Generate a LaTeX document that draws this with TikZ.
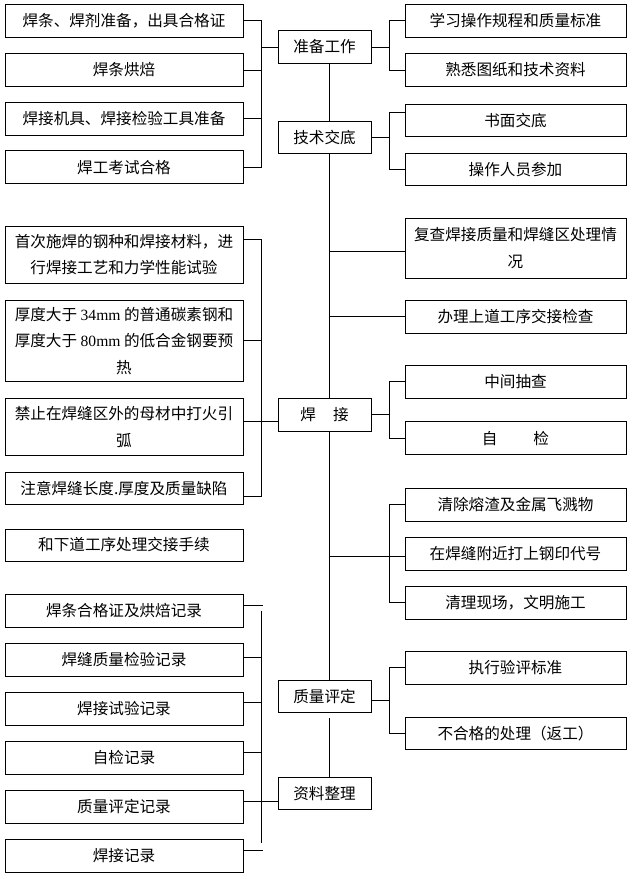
\documentclass[tikz,border=0pt]{standalone}
\usepackage{fontspec}
\setmainfont{Noto Sans CJK SC}
\newfontfamily\lat{Liberation Serif}
\begin{document}
\begin{tikzpicture}[x=1pt,y=-1pt]
\tikzset{
 bx/.style={draw, line width=0.9pt, inner sep=0pt, align=center, font=\fontsize{15.6}{26.7}\selectfont},
 lb/.style={bx, minimum width=238pt, minimum height=33pt},
 cb/.style={bx, minimum width=93pt, minimum height=32.6pt},
 rb/.style={bx, minimum width=221pt, minimum height=33pt},
 ln/.style={line width=0.9pt}
}
\useasboundingbox[fill=white] (0,0) rectangle (632,879);
\coordinate (spine) at (329,0);
% left boxes
\node[lb] (L1) at (124,20.8) {焊条、焊剂准备，出具合格证};
\node[lb] (L2) at (124,70) {焊条烘焙};
\node[lb] (L3) at (124,118.8) {焊接机具、焊接检验工具准备};
\node[lb] (L4) at (124,167.3) {焊工考试合格};
\node[lb, minimum height=57.3pt] (L5) at (124,254.7) {首次施焊的钢种和焊接材料，进\\行焊接工艺和力学性能试验};
\node[lb, minimum height=81.7pt] (L6) at (124,340.8) {厚度大于 {\lat 34mm} 的普通碳素钢和\\厚度大于 {\lat 80mm} 的低合金钢要预\\热};
\node[lb, minimum height=56.7pt] (L7) at (124,426.7) {禁止在焊缝区外的母材中打火引\\弧};
\node[lb, minimum height=32pt] (L8) at (124,488.3) {注意焊缝长度.厚度及质量缺陷};
\node[lb, minimum height=32pt] (L9) at (124,545) {和下道工序处理交接手续};
\node[lb] (L10) at (124,610.7) {焊条合格证及烘焙记录};
\node[lb] (L11) at (124,659.7) {焊缝质量检验记录};
\node[lb] (L12) at (124,708.7) {焊接试验记录};
\node[lb] (L13) at (124,757.8) {自检记录};
\node[lb] (L14) at (124,806.8) {质量评定记录};
\node[lb] (L15) at (124,855.8) {焊接记录};
% centre boxes
\node[cb] (C1) at (324.5,47) {准备工作};
\node[cb] (C2) at (324.5,137.3) {技术交底};
\node[cb] (C3) at (324.5,414.7) {焊\hspace{1.1em}接};
\node[cb] (C4) at (324.5,696.3) {质量评定};
\node[cb] (C5) at (324.5,793.3) {资料整理};
% right boxes
\node[rb] (R1) at (515.5,20.8) {学习操作规程和质量标准};
\node[rb] (R2) at (515.5,70) {熟悉图纸和技术资料};
\node[rb, minimum height=32.4pt] (R3) at (515.5,120.5) {书面交底};
\node[rb, minimum height=32pt] (R4) at (515.5,169.3) {操作人员参加};
\node[rb, minimum height=60pt] (R5) at (515.5,248.3) {复查焊接质量和焊缝区处理情\\况};
\node[rb] (R6) at (515.5,316.7) {办理上道工序交接检查};
\node[rb] (R7) at (515.5,381.8) {中间抽查};
\node[rb] (R8) at (515.5,438.3) {自\hspace{2.3em}检};
\node[rb, minimum height=32.7pt] (R9) at (515.5,504.7) {清除熔渣及金属飞溅物};
\node[rb, minimum height=32.7pt] (R10) at (515.5,553.7) {在焊缝附近打上钢印代号};
\node[rb] (R11) at (515.5,602.5) {清理现场，文明施工};
\node[rb] (R12) at (515.5,667.7) {执行验评标准};
\node[rb, minimum height=31.6pt] (R13) at (515.5,733.5) {不合格的处理（返工）};
% spine
\draw[ln] (C1.south -| spine) -- (C2.north -| spine);
\draw[ln] (C2.south -| spine) -- (C3.north -| spine);
\draw[ln] (C3.south -| spine) -- (C4.north -| spine);
\draw[ln] ([yshift=-5pt]C4.south -| spine) -- (C5.north -| spine);
% group 1 left
\coordinate (b1) at (261,47);
\foreach \n in {L1,L2,L3,L4} \draw[ln] (\n.east) -| (b1);
\draw[ln] (b1) -- (C1.west);
% group 1 right
\coordinate (r1) at (389,47);
\draw[ln] (C1.east) -- (r1);
\draw[ln] (r1) |- (R1.west);
\draw[ln] (r1) |- (R2.west);
% group 2 right
\coordinate (r2) at (389,137.3);
\draw[ln] (C2.east) -- (r2);
\draw[ln] (r2) |- ([yshift=7.8pt]R3.west);
\draw[ln] (r2) |- (R4.west);
% spine branches
\coordinate (s5) at (329,251.7);
\draw[ln] (s5) -- (s5 -| R5.west);
\draw[ln] (R6.west -| spine) -- (R6.west);
% group 3 right
\coordinate (r3) at (389,414.7);
\draw[ln] (C3.east) -- (r3);
\draw[ln] (r3) |- (R7.west);
\draw[ln] (r3) |- (R8.west);
% group 3 left
\coordinate (b2) at (261,421.7);
\draw[ln] ([yshift=-14pt]L5.north east) -| (b2);
\draw[ln] (L6.east) -| (b2);
\draw[ln] ([yshift=-7.7pt]L8.east) -| (b2);
\draw[ln] (L7.east |- b2) -- (b2 -| C3.west);
% group 4 right
\coordinate (r4) at (389,556);
\draw[ln] (r4 -| spine) -- (r4);
\draw[ln] (r4) |- (R9.west);
\draw[ln] (r4) |- (R11.west);
\draw[ln] (r4) -- (r4 -| R10.west);
% group 5 right
\coordinate (r5) at (389,700.3);
\draw[ln] ([yshift=-4pt]C4.east) -- (r5);
\draw[ln] (r5) |- (R12.west);
\draw[ln] (r5) |- (R13.west);
% group 6 left
\coordinate (b3t) at (261,610.7);
\coordinate (b3b) at (261,843.3);
\draw[ln] (b3t) -- (b3b);
\draw[ln] ([yshift=5pt]L10.east) -- ++(19.6,0);
\draw[ln] ([yshift=2.4pt]L11.east) -- ++(18,0);
\draw[ln] ([yshift=6pt]L12.east) -- ++(18,0);
\draw[ln] ([yshift=5pt]L13.east) -- ++(18,0);
\draw[ln] ([yshift=5.5pt]L14.east) -- ([yshift=-8pt]C5.west);
\draw[ln] ([yshift=5pt]L15.east) -- ++(19.6,0);
\end{tikzpicture}
\end{document}
